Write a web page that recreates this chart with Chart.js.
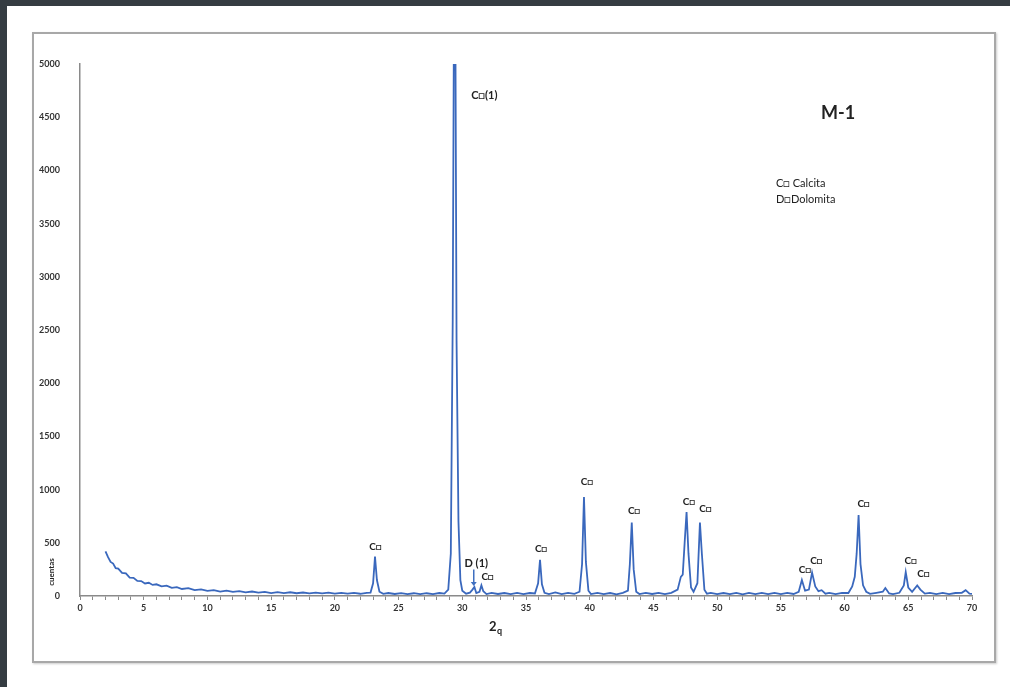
<!DOCTYPE html>
<html>
<head>
<meta charset="utf-8">
<script src="https://cdn.jsdelivr.net/npm/chart.js@4.4.0/dist/chart.umd.min.js"></script>
<style>
  body { margin: 0; background: #353c42; }
  #page { position: absolute; left: 7px; top: 6px; width: 1003px; height: 681px; background: #fff; }
  #frame { position: absolute; left: 32px; top: 32px; width: 960px; height: 627px; border: 2px solid #a8a8a8; box-shadow: 1px 1px 2px #ccc; }
  #wrap { position: absolute; left: 0; top: 0; width: 1010px; height: 687px; }
</style>
</head>
<body>
<div id="page"></div>
<div id="frame"></div>
<div id="wrap"><canvas id="xrd"></canvas></div>
<script>
// 2-theta positions and counts
const twoTheta = [
  2.0, 2.2, 2.4, 2.6, 2.8, 3.0, 3.3, 3.6, 3.9, 4.2, 4.5, 4.8, 5.1, 5.4, 5.7, 6.0, 6.4, 6.8, 7.2, 7.6,
  8.0, 8.5, 9.0, 9.5, 10.0, 10.5, 11.0, 11.5, 12.0, 12.5, 13.0, 13.5, 14.0, 14.5, 15.0, 15.5, 16.0, 16.5, 17.0, 17.5,
  18.0, 18.5, 19.0, 19.5, 20.0, 20.5, 21.0, 21.5, 22.0, 22.5, 22.8, 23.0, 23.15, 23.3, 23.5, 23.8, 24.2, 24.7, 25.2, 25.7,
  26.2, 26.7, 27.2, 27.7, 28.2, 28.6, 28.9, 29.1, 29.25, 29.35, 29.45, 29.55, 29.7, 29.85, 30.0, 30.3, 30.6, 30.8, 30.95, 31.1,
  31.35, 31.5, 31.65, 31.9, 32.3, 32.8, 33.3, 33.8, 34.3, 34.8, 35.3, 35.7, 35.95, 36.1, 36.25, 36.45, 36.8, 37.3, 37.8, 38.3,
  38.8, 39.2, 39.4, 39.55, 39.7, 39.9, 40.1, 40.6, 41.1, 41.6, 42.1, 42.6, 43.0, 43.15, 43.3, 43.45, 43.65, 43.9, 44.4, 44.9,
  45.4, 45.9, 46.4, 46.9, 47.15, 47.3, 47.45, 47.6, 47.75, 47.95, 48.15, 48.45, 48.65, 48.8, 49.0, 49.2, 49.5, 50.0, 50.5, 51.0,
  51.5, 52.0, 52.5, 53.0, 53.5, 54.0, 54.5, 55.0, 55.5, 56.0, 56.4, 56.65, 56.9, 57.2, 57.45, 57.7, 57.95, 58.2, 58.5, 58.8,
  59.3, 59.8, 60.3, 60.6, 60.8, 60.95, 61.1, 61.25, 61.45, 61.7, 62.0, 62.5, 63.0, 63.2, 63.5, 63.8, 64.3, 64.65, 64.8, 65.0,
  65.3, 65.7, 65.95, 66.3, 66.7, 67.2, 67.7, 68.2, 68.7, 69.2, 69.5, 69.8, 70.0
];
const counts = [
  420, 365, 320, 305, 262, 258, 218, 212, 172, 170, 142, 140, 118, 124, 104, 110, 90, 98, 76, 84,
  66, 74, 55, 62, 48, 56, 42, 50, 38, 46, 34, 42, 32, 39, 28, 37, 27, 35, 26, 33,
  25, 32, 24, 31, 23, 30, 22, 29, 21, 30, 32, 120, 370, 150, 40, 20, 28, 19, 27, 18,
  26, 17, 26, 18, 28, 22, 60, 400, 2600, 5600, 5600, 2400, 700, 150, 50, 22, 32, 60, 85, 28,
  40, 100, 45, 18, 30, 19, 28, 17, 29, 18, 28, 24, 120, 340, 110, 30, 18, 34, 17, 29,
  20, 40, 300, 930, 320, 50, 18, 30, 17, 28, 16, 30, 50, 300, 690, 250, 40, 18, 30, 19,
  29, 17, 30, 60, 180, 200, 500, 790, 400, 80, 40, 120, 690, 400, 60, 22, 30, 17, 28, 18,
  30, 16, 29, 18, 30, 17, 29, 18, 30, 19, 40, 150, 50, 60, 220, 90, 45, 55, 22, 30,
  17, 30, 28, 90, 180, 400, 760, 300, 100, 40, 20, 30, 40, 75, 24, 18, 30, 100, 225, 80,
  40, 100, 60, 22, 30, 18, 29, 17, 28, 30, 55, 22, 20
];

// peak labels (position in data units)
const labelX = [23.2, 36.2, 39.8, 43.5, 47.8, 49.1, 56.9, 57.8, 61.5, 65.2, 66.2, 32.0];
const labelY = [460, 440, 1070, 800, 890, 820, 245, 330, 865, 330, 205, 180];
const labelText = "C\u25A1";

const yTicks = { min: 0, max: 5000, step: 500 };
const xTicks = { min: 0, max: 70, step: 1 };

const points = twoTheta.map((t, i) => ({ x: t, y: counts[i] }));

const textPlugin = {
  id: "textPlugin",
  afterDatasetsDraw(chart) {
    const ctx = chart.ctx;
    const xs = chart.scales.x, ys = chart.scales.y;
    ctx.save();
    ctx.fillStyle = "#222";
    ctx.textAlign = "center";
    ctx.textBaseline = "middle";
    ctx.font = "bold 10px Lato";
    labelX.forEach((v, i) => {
      ctx.fillText(labelText, xs.getPixelForValue(v), ys.getPixelForValue(labelY[i]));
    });
    // main peak label
    ctx.textAlign = "left";
    ctx.font = "bold 11px Lato";
    ctx.fillText("C\u25A1(1)", xs.getPixelForValue(30.7), ys.getPixelForValue(4700));
    // dolomite label and arrow
    ctx.textAlign = "center";
    ctx.fillText("D (1)", xs.getPixelForValue(31.1), ys.getPixelForValue(310));
    const ax = xs.getPixelForValue(30.9);
    const a0 = ys.getPixelForValue(250), a1 = ys.getPixelForValue(95);
    ctx.strokeStyle = "#3f6fc0";
    ctx.fillStyle = "#3f6fc0";
    ctx.lineWidth = 1.5;
    ctx.beginPath(); ctx.moveTo(ax, a0); ctx.lineTo(ax, a1 - 3); ctx.stroke();
    ctx.beginPath(); ctx.moveTo(ax - 3, a1 - 4); ctx.lineTo(ax + 3, a1 - 4); ctx.lineTo(ax, a1); ctx.closePath(); ctx.fill();

    // sample name and legend
    ctx.fillStyle = "#222";
    ctx.font = "bold 18px Lato";
    ctx.fillText("M-1", 838, 113);
    ctx.textAlign = "left";
    ctx.font = "11px Lato";
    ctx.fillText("C\u25A1 Calcita", 776, 183);
    ctx.fillText("D\u25A1Dolomita", 776, 199);

    // axis titles
    ctx.font = "bold 13px Lato";
    ctx.textAlign = "left";
    ctx.fillText("2", 489, 627);
    ctx.font = "bold 9px Lato";
    ctx.fillText("q", 497, 631);
    ctx.translate(51, 572);
    ctx.rotate(-Math.PI / 2);
    ctx.textAlign = "center";
    ctx.font = "bold 8px Lato";
    ctx.fillText("cuentas", 0, 0);
    ctx.restore();
  }
};

new Chart(document.getElementById("xrd"), {
  type: "scatter",
  data: {
    datasets: [{
      data: points,
      showLine: true,
      borderColor: "#3a68bd",
      borderWidth: 1.8,
      pointRadius: 0,
      tension: 0
    }]
  },
  options: {
    responsive: true,
    maintainAspectRatio: false,
    animation: false,
    layout: { padding: { left: 0, top: 64, right: 38, bottom: 0 } },
    plugins: { legend: { display: false }, tooltip: { enabled: false } },
    scales: {
      x: {
        type: "linear",
        min: xTicks.min, max: xTicks.max,
        afterFit(s) { s.height = 91; },
        border: { display: true, color: "#8a8a8a", width: 1.5 },
        grid: { display: true, drawOnChartArea: false, drawTicks: true, tickLength: 4, color: "#8a8a8a" },
        ticks: {
          stepSize: xTicks.step, autoSkip: false, maxRotation: 0, padding: 3,
          color: "#333", font: { family: "Lato", size: 9, weight: "bold" },
          callback: v => (v % 5 === 0 ? String(v) : "")
        }
      },
      y: {
        min: yTicks.min, max: yTicks.max,
        afterFit(s) { s.width = 80; },
        border: { display: true, color: "#8a8a8a", width: 1.5 },
        grid: { display: false },
        ticks: {
          stepSize: yTicks.step, padding: 12,
          color: "#333", font: { family: "Lato", size: 9, weight: "bold" },
          callback: v => String(v)
        }
      }
    }
  },
  plugins: [textPlugin]
});
</script>
</body>
</html>
